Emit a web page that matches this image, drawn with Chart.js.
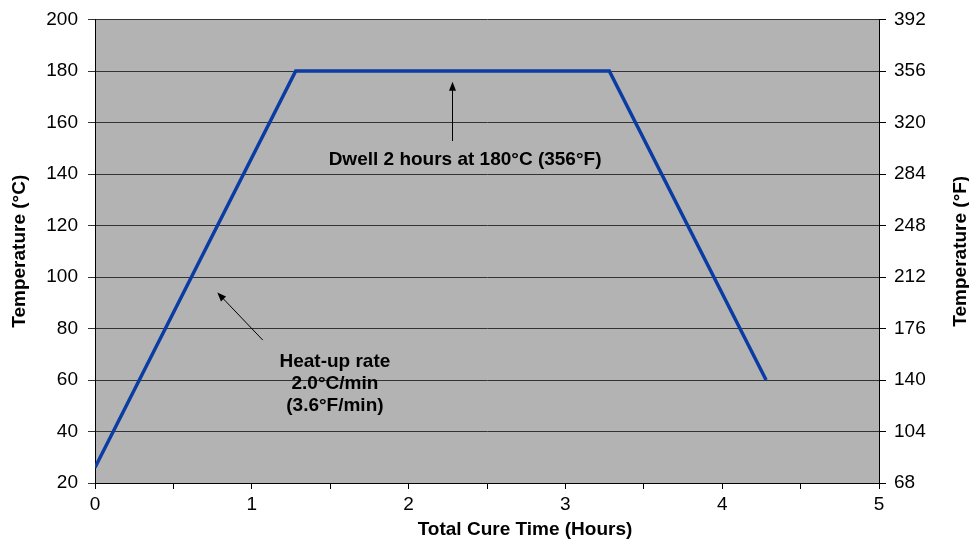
<!DOCTYPE html>
<html>
<head>
<meta charset="utf-8">
<script src="https://cdn.jsdelivr.net/npm/chart.js@4"></script>
<style>
  html, body { margin: 0; padding: 0; background: #fff; }
  #wrap { width: 969px; height: 544px; position: relative; }
</style>
</head>
<body>
<div id="wrap"><canvas id="cureChart"></canvas></div>
<script>
// cure profile
const timeHours = [0, 1.28, 3.28, 4.28];
const tempC = [26, 180, 180, 60];
const celsiusTicks = [20, 40, 60, 80, 100, 120, 140, 160, 180, 200];
const fahrenheitTicks = [68, 104, 140, 176, 212, 248, 284, 320, 356, 392];
const timeTicks = [0, 0.5, 1, 1.5, 2, 2.5, 3, 3.5, 4, 4.5, 5];

// annotation text + arrows (in data units)
const heatUpLines = ['Heat-up rate', '2.0°C/min', '(3.6°F/min)'];
const dwellLabel = 'Dwell 2 hours at 180°C (356°F)';

document.addEventListener('DOMContentLoaded', function () {
    const ctx = document.getElementById('cureChart').getContext('2d');
    const FONT = '"Liberation Sans", Arial, sans-serif';

    function arrow(c, x1, y1, x2, y2) {
        const ang = Math.atan2(y2 - y1, x2 - x1);
        const len = 9, half = 3.5;
        c.beginPath();
        c.moveTo(x1, y1);
        c.lineTo(x2 - Math.cos(ang) * len * 0.8, y2 - Math.sin(ang) * len * 0.8);
        c.stroke();
        c.beginPath();
        c.moveTo(x2, y2);
        c.lineTo(x2 - Math.cos(ang) * len - Math.sin(ang) * half, y2 - Math.sin(ang) * len + Math.cos(ang) * half);
        c.lineTo(x2 - Math.cos(ang) * len + Math.sin(ang) * half, y2 - Math.sin(ang) * len - Math.cos(ang) * half);
        c.closePath();
        c.fill();
    }

    const plotBg = {
        id: 'plotBg',
        beforeDraw(chart) {
            const a = chart.chartArea, c = chart.ctx;
            c.save();
            c.fillStyle = '#b3b3b3';
            c.fillRect(a.left, a.top, a.right - a.left, a.bottom - a.top);
            c.restore();
        }
    };

    const extras = {
        id: 'extras',
        afterDraw(chart) {
            const c = chart.ctx, a = chart.chartArea;
            const x = chart.scales.x, y = chart.scales.y;
            c.save();
            c.fillStyle = '#000';
            c.strokeStyle = '#000';
            c.lineWidth = 1;

            // axis titles
            c.font = 'bold 19px ' + FONT;
            c.textAlign = 'center';
            c.textBaseline = 'middle';
            c.fillText('Total Cure Time (Hours)', 525, 530);
            const midY = (a.top + a.bottom) / 2;
            c.save();
            c.translate(20, midY);
            c.rotate(-Math.PI / 2);
            c.fillText('Temperature (°C)', 0, 0);
            c.restore();
            c.save();
            c.translate(961, midY);
            c.rotate(-Math.PI / 2);
            c.fillText('Temperature (°F)', 0, 0);
            c.restore();

            // heat-up note
            heatUpLines.forEach((t, i) => {
                c.fillText(t, x.getPixelForValue(1.53), y.getPixelForValue(67) + i * 22);
            });
            arrow(c, x.getPixelForValue(1.07), y.getPixelForValue(75.5),
                     x.getPixelForValue(0.78), y.getPixelForValue(94));

            // dwell note
            c.fillText(dwellLabel, x.getPixelForValue(2.36), y.getPixelForValue(145.4));
            arrow(c, x.getPixelForValue(2.28), y.getPixelForValue(152.8),
                     x.getPixelForValue(2.28), y.getPixelForValue(175.8));
            c.restore();
        }
    };

    new Chart(ctx, {
        type: 'line',
        data: {
            datasets: [{
                data: timeHours.map((t, i) => ({ x: t, y: tempC[i] })),
                borderColor: '#0a3ca3',
                borderWidth: 3.5,
                pointRadius: 0,
                tension: 0,
                fill: false
            }]
        },
        options: {
            responsive: true,
            maintainAspectRatio: false,
            animation: false,
            layout: { padding: { top: 18, left: 0, right: 0, bottom: 0 } },
            plugins: {
                legend: { display: false },
                tooltip: { enabled: false }
            },
            scales: {
                x: {
                    type: 'linear',
                    min: 0,
                    max: 5,
                    afterBuildTicks: s => { s.ticks = timeTicks.map(v => ({ value: v })); },
                    afterFit: s => { s.height = 61; },
                    ticks: {
                        color: '#000',
                        font: { family: FONT, size: 19 },
                        padding: 4,
                        maxRotation: 0,
                        autoSkip: false,
                        callback: v => Number.isInteger(v) ? v : ''
                    },
                    grid: { drawOnChartArea: false, color: '#000', tickLength: 6 },
                    border: { color: '#000', width: 1 }
                },
                y: {
                    min: 20,
                    max: 200,
                    afterBuildTicks: s => { s.ticks = celsiusTicks.map(v => ({ value: v })); },
                    afterFit: s => { s.width = 95; },
                    ticks: { color: '#000', font: { family: FONT, size: 19, lineHeight: 1 }, padding: 10 },
                    grid: { color: '#333', tickLength: 7 },
                    border: { color: '#000', width: 1 }
                },
                y2: {
                    position: 'right',
                    min: 68,
                    max: 392,
                    afterBuildTicks: s => { s.ticks = fahrenheitTicks.map(v => ({ value: v })); },
                    afterFit: s => { s.width = 90; },
                    ticks: { color: '#000', font: { family: FONT, size: 19, lineHeight: 1 }, padding: 8 },
                    grid: { drawOnChartArea: false, color: '#000', tickLength: 7 },
                    border: { color: '#000', width: 1 }
                }
            }
        },
        plugins: [plotBg, extras]
    });
});
</script>
</body>
</html>
